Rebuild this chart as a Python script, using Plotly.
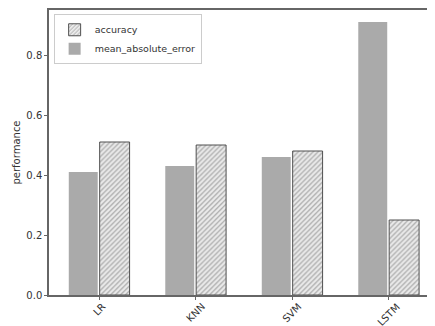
import plotly.graph_objects as go

categories = ["LR", "KNN", "SVM", "LSTM"]
mae = [0.41, 0.43, 0.46, 0.91]
accuracy = [0.51, 0.50, 0.48, 0.25]

xs = list(range(len(categories)))

fig = go.Figure()
fig.add_trace(go.Bar(
    x=[i + 0.16 for i in xs], y=accuracy, width=0.31, name="accuracy",
    marker=dict(color="white",
                pattern=dict(shape="/", fgcolor="#606060", bgcolor="#ececec", size=3.5, solidity=0.35),
                line=dict(color="#505050", width=1)),
))
fig.add_trace(go.Bar(
    x=[i - 0.165 for i in xs], y=mae, width=0.3, name="mean_absolute_error",
    marker=dict(color="#aaaaaa", line=dict(width=0)),
))

# rotated, centred category labels (matplotlib-style rotation=45)
for i, c in zip(xs, categories):
    fig.add_annotation(x=i, xref="x", y=0, yref="paper", text=c, textangle=-45,
                       showarrow=False, xanchor="center", yanchor="top", yshift=-3,
                       font=dict(family="DejaVu Sans", size=10, color="#333333"))

fig.update_layout(
    width=435, height=326,
    margin=dict(l=41, r=8, t=0, b=39),
    paper_bgcolor="white", plot_bgcolor="white",
    barmode="overlay",
    font=dict(family="DejaVu Sans", size=10, color="#333333"),
    showlegend=True,
    legend=dict(x=0.012, y=0.985, xanchor="left", yanchor="top",
                bordercolor="#cccccc", borderwidth=1, bgcolor="rgba(255,255,255,0.8)",
                font=dict(size=9.5, color="#333333"), traceorder="normal",
                itemwidth=30, tracegroupgap=0),
    xaxis=dict(range=[-0.52, 3.48], tickvals=xs, ticktext=["" for _ in categories],
               showline=True, linecolor="#666666", linewidth=1.5, mirror=True,
               ticks="outside", ticklen=3, tickcolor="#666666", showgrid=False, zeroline=False),
    yaxis=dict(range=[0, 0.95], tickvals=[0, 0.2, 0.4, 0.6, 0.8],
               ticktext=["0.0", "0.2", "0.4", "0.6", "0.8"],
               showline=True, linecolor="#666666", linewidth=1.5, mirror=True,
               ticks="outside", ticklen=3, tickcolor="#666666", showgrid=False, zeroline=False,
               title=dict(text="performance", standoff=4, font=dict(size=10))),
)

fig.write_html("out.html")
